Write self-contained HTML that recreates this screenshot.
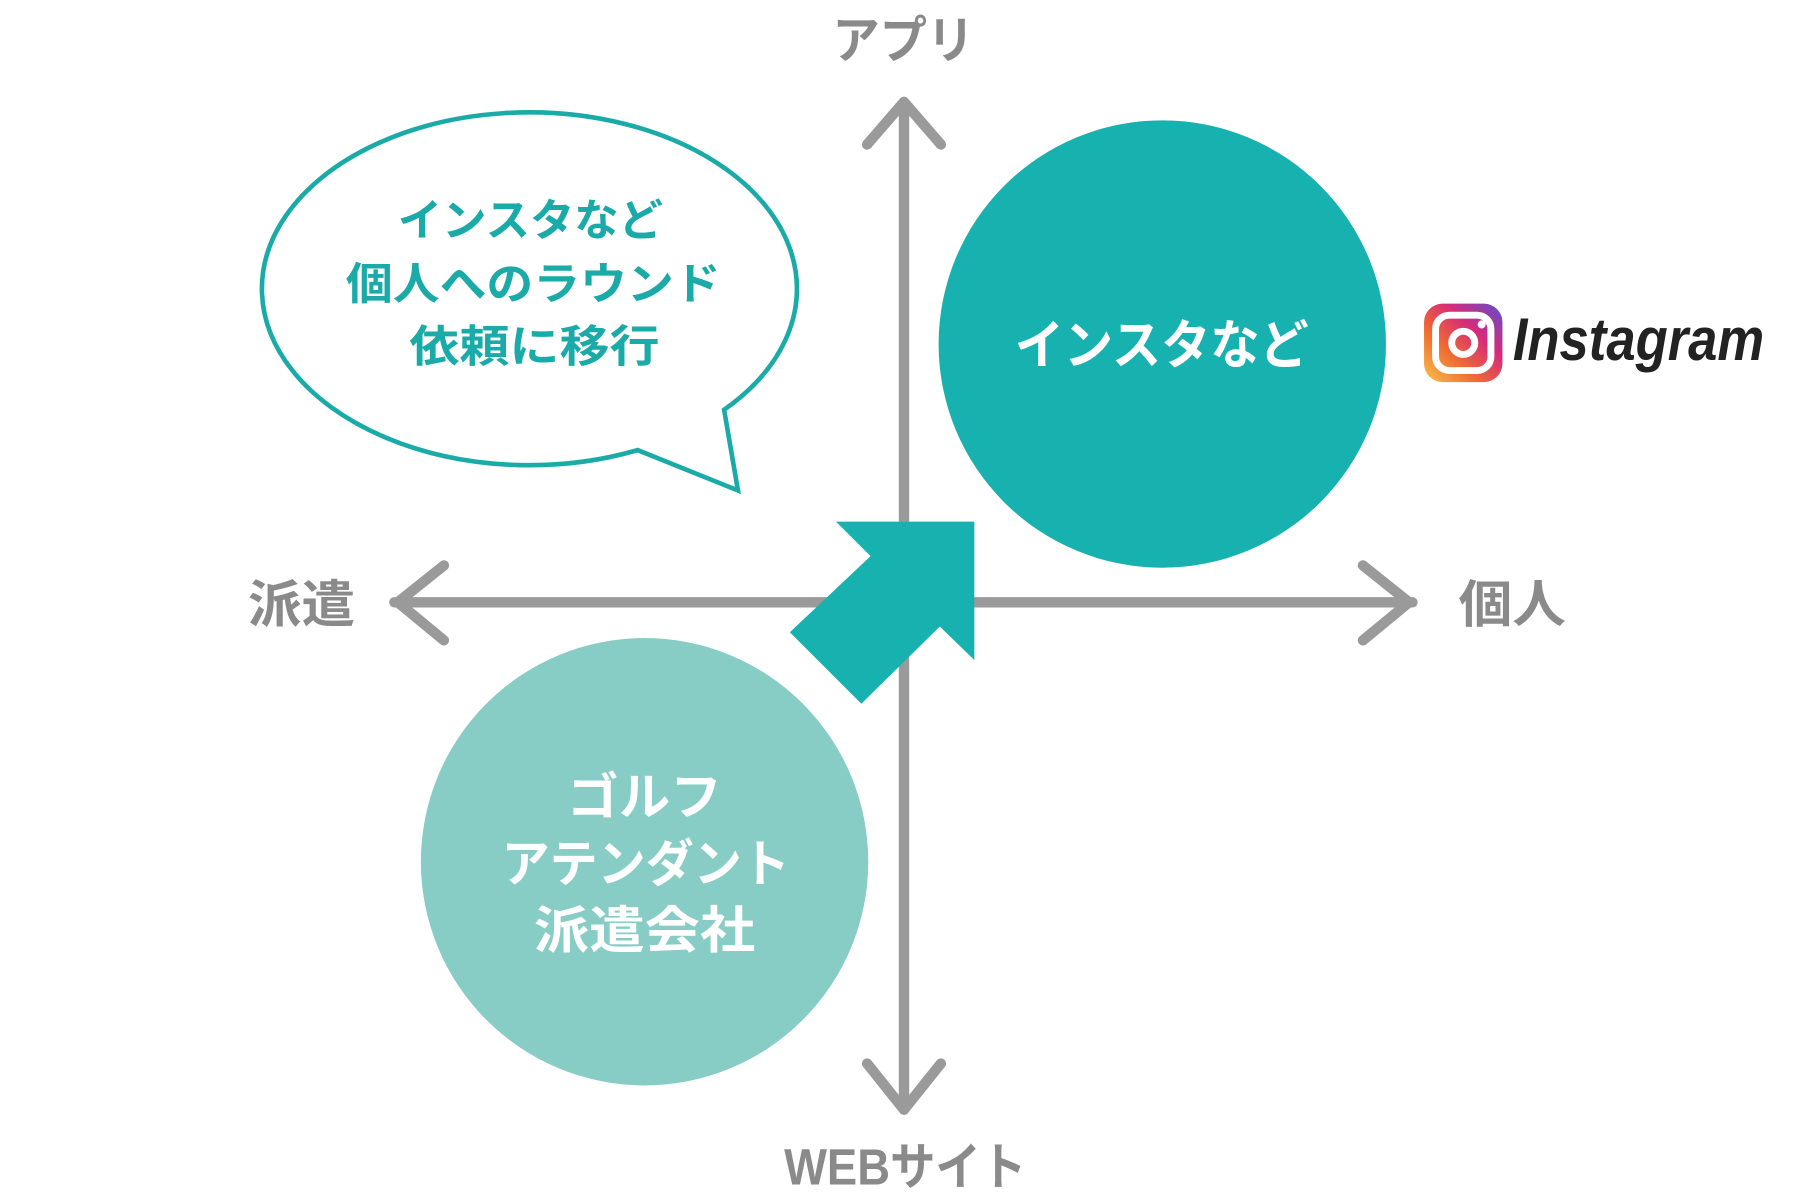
<!DOCTYPE html>
<html><head><meta charset="utf-8"><style>
html,body{margin:0;padding:0;background:#fff;}
svg{display:block;}
text{font-family:"Liberation Sans","Noto Sans CJK JP",sans-serif;font-weight:bold;}
</style></head><body>
<svg width="1808" height="1200" viewBox="0 0 1568 1040" xmlns="http://www.w3.org/2000/svg">
<defs>
<linearGradient id="ig" x1="0" y1="1" x2="1" y2="0">
<stop offset="0" stop-color="#f9c34a"/><stop offset="0.35" stop-color="#f06a32"/><stop offset="0.65" stop-color="#d62b7a"/><stop offset="1" stop-color="#5b4fcf"/>
</linearGradient>
</defs>
<g stroke="#9a9a9a" stroke-width="9" fill="none" stroke-linecap="round" stroke-linejoin="round">
<line x1="784" y1="88" x2="784" y2="962"/>
<line x1="342" y1="522" x2="1225" y2="522"/>
<polyline points="752,125 784,88 816,125"/>
<polyline points="752,922 784,962 816,922"/>
<polyline points="385,490 345,522 385,555"/>
<polyline points="1182,490 1222,522 1182,555"/>
</g>
<circle cx="1008" cy="298" r="194" fill="#17b2b0"/>
<circle cx="559" cy="747" r="194" fill="#88ccc6"/>
<polygon points="725,452 845,452 845,572 815,543 747,610 685,548 755,482" fill="#17b2b0"/>
<path d="M628,355 A232,153 0 1 0 553,390 L640,425 Z" fill="#fff" stroke="#1aaba8" stroke-width="4" stroke-linejoin="miter"/>
<g fill="#1aaba8" font-size="38">
<text x="345" y="204" textLength="230" lengthAdjust="spacingAndGlyphs">インスタなど</text>
<text x="300" y="259" textLength="325" lengthAdjust="spacingAndGlyphs">個人へのラウンド</text>
<text x="355" y="313" textLength="217" lengthAdjust="spacingAndGlyphs">依頼に移行</text>
</g>
<text x="880" y="315" fill="#fff" font-size="46" textLength="255" lengthAdjust="spacingAndGlyphs">インスタなど</text>
<g fill="#fff" font-size="44">
<text x="492" y="706" textLength="134" lengthAdjust="spacingAndGlyphs">ゴルフ</text>
<text x="435" y="764" textLength="250" lengthAdjust="spacingAndGlyphs">アテンダント</text>
<text x="463" y="822" textLength="192" lengthAdjust="spacingAndGlyphs">派遣会社</text>
</g>
<g fill="#8a8a8a" font-size="44">
<text x="722" y="50" textLength="123" lengthAdjust="spacingAndGlyphs">アプリ</text>
<text x="215" y="539" textLength="93" lengthAdjust="spacingAndGlyphs">派遣</text>
<text x="1265" y="539" textLength="93" lengthAdjust="spacingAndGlyphs">個人</text>
<text x="680" y="1027" textLength="210" lengthAdjust="spacingAndGlyphs">WEBサイト</text>
</g>
<rect x="1235" y="263" width="68" height="68" rx="16" fill="url(#ig)"/>
<rect x="1245" y="273" width="48" height="48" rx="12" fill="none" stroke="#fff" stroke-width="6"/>
<circle cx="1269" cy="297" r="10" fill="none" stroke="#fff" stroke-width="6"/>
<circle cx="1285" cy="281" r="3.5" fill="#fff"/>
<text x="1312" y="312" font-family="'Liberation Serif',serif" font-style="italic" font-weight="normal" font-size="52" fill="#222" textLength="218" lengthAdjust="spacingAndGlyphs">Instagram</text>
</svg>
</body></html>
